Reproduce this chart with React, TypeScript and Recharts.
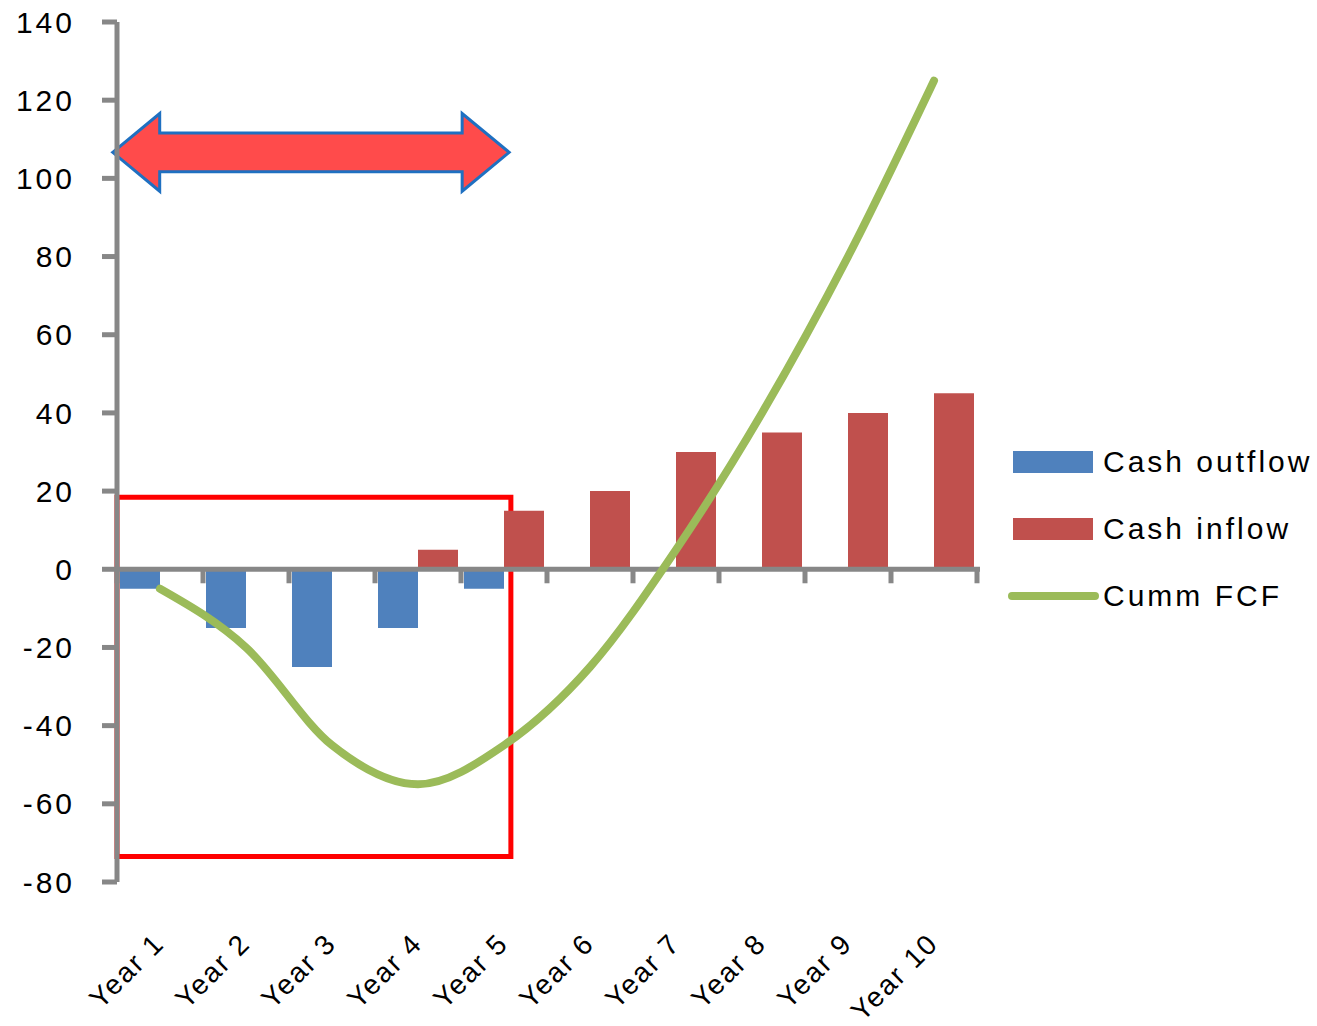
import React from 'react';
import {
  ComposedChart,
  Bar,
  Line,
  XAxis,
  YAxis,
  Legend,
  ReferenceLine,
  ReferenceArea,
} from 'recharts';

const years = ['Year 1', 'Year 2', 'Year 3', 'Year 4', 'Year 5', 'Year 6', 'Year 7', 'Year 8', 'Year 9', 'Year 10'];
const cashOutflow = [-5, -15, -25, -15, -5, null, null, null, null, null];
const cashInflow = [null, null, null, 5, 15, 20, 30, 35, 40, 45];
const cummFcf = [-5, -20, -45, -55, -45, -25, 5, 40, 80, 125];
const yTicks = [-80, -60, -40, -20, 0, 20, 40, 60, 80, 100, 120, 140];

// annotation extents, in data units (hidden numeric x axis runs 0..10 across the categories)
const payback = { x1: 0, x2: 4.58, y1: -73.5, y2: 18.4 };
const arrow = { x1: -0.05, x2: 4.56, y1: 96.7, y2: 116.6 };

const FONT = '"Liberation Sans", Arial, sans-serif';
const AXIS_GREY = '#878787';
const BLUE = '#4F81BD';
const RED = '#C0504D';
const GREEN = '#9BBB59';

const data = years.map((name, i) => ({
  name,
  pos: i + 0.5,
  outflow: cashOutflow[i],
  inflow: cashInflow[i],
  cumm: cummFcf[i],
}));

const YearTick = (props: any) => {
  const { x, y, payload } = props;
  const tx = x + 6;
  const ty = y + 63;
  return (
    <text
      x={tx}
      y={ty}
      transform={`rotate(-45, ${tx}, ${ty})`}
      textAnchor="end"
      fontSize={28}
      fontFamily={FONT}
      letterSpacing={2}
      fill="#000"
    >
      {payload.value}
    </text>
  );
};

// horizontal axis drawn at zero, with tick marks on category boundaries
const ZeroAxis = (props: any) => {
  const { x1, y1, x2 } = props;
  const n = years.length;
  const step = (x2 - x1) / n;
  const marks = [];
  for (let i = 0; i <= n; i++) {
    const xx = x1 + i * step;
    marks.push(<line key={i} x1={xx} y1={y1} x2={xx} y2={y1 + 14} stroke={AXIS_GREY} strokeWidth={5} />);
  }
  return (
    <g>
      <line x1={x1} y1={y1} x2={x2 + 3} y2={y1} stroke={AXIS_GREY} strokeWidth={5} />
      {marks}
    </g>
  );
};

const ArrowShape = (props: any) => {
  const { x, y, width, height } = props;
  const head = 47;
  const top = y + height * 0.25;
  const bot = y + height * 0.75;
  const mid = y + height / 2;
  const pts = [
    [x, mid],
    [x + head, y],
    [x + head, top],
    [x + width - head, top],
    [x + width - head, y],
    [x + width, mid],
    [x + width - head, y + height],
    [x + width - head, bot],
    [x + head, bot],
    [x + head, y + height],
  ]
    .map((p) => p.join(','))
    .join(' ');
  return <polygon points={pts} fill="#FF4B4B" stroke="#1F70C1" strokeWidth={3} strokeLinejoin="miter" />;
};

const legendItems = [
  { label: 'Cash outflow', color: BLUE, kind: 'bar' },
  { label: 'Cash inflow', color: RED, kind: 'bar' },
  { label: 'Cumm FCF', color: GREEN, kind: 'line' },
];

const LegendContent = () => (
  <div style={{ fontFamily: FONT, fontSize: 30, letterSpacing: 3, color: '#000' }}>
    {legendItems.map((it) => (
      <div key={it.label} style={{ display: 'flex', alignItems: 'center', height: 67 }}>
        <svg width={95} height={30}>
          {it.kind === 'bar' ? (
            <rect x={5} y={4} width={80} height={22} fill={it.color} />
          ) : (
            <line x1={4} y1={15} x2={87} y2={15} stroke={it.color} strokeWidth={8} strokeLinecap="round" />
          )}
        </svg>
        <span>{it.label}</span>
      </div>
    ))}
  </div>
);

export default function App() {
  return (
    <div style={{ position: 'absolute', left: 0, top: 0, background: '#fff' }}>
      <ComposedChart
        width={1317}
        height={1026}
        data={data}
        margin={{ top: 22, right: 340, bottom: 14, left: 0 }}
        barGap={0}
        barCategoryGap={3}
      >
        <XAxis
          dataKey="name"
          height={130}
          axisLine={false}
          tickLine={false}
          tickSize={0}
          tickMargin={0}
          interval={0}
          tick={<YearTick />}
        />
        <XAxis xAxisId="num" dataKey="pos" type="number" domain={[0, 10]} allowDataOverflow hide />
        <YAxis
          width={117}
          domain={[-80, 140]}
          ticks={yTicks}
          interval={0}
          axisLine={{ stroke: AXIS_GREY, strokeWidth: 5 }}
          tickLine={{ stroke: AXIS_GREY, strokeWidth: 5 }}
          tickSize={15}
          tickMargin={27}
          tick={{ fill: '#000', fontSize: 30, fontFamily: FONT, letterSpacing: 3 }}
        />
        <Legend
          layout="horizontal"
          verticalAlign="middle"
          align="center"
          content={<LegendContent />}
          wrapperStyle={{ left: 1008, top: 428, width: 309, height: 201 }}
        />
        <Bar dataKey="outflow" name="Cash outflow" fill={BLUE} isAnimationActive={false} />
        <Bar dataKey="inflow" name="Cash inflow" fill={RED} isAnimationActive={false} />
        <ReferenceLine y={0} shape={<ZeroAxis />} />
        <Line
          type="monotone"
          dataKey="cumm"
          name="Cumm FCF"
          stroke={GREEN}
          strokeWidth={8}
          strokeLinecap="round"
          dot={false}
          activeDot={false}
          isAnimationActive={false}
        />
        <ReferenceArea
          xAxisId="num"
          x1={payback.x1}
          x2={payback.x2}
          y1={payback.y1}
          y2={payback.y2}
          fill="none"
          fillOpacity={0}
          stroke="#FF0000"
          strokeWidth={5}
          ifOverflow="visible"
        />
        <ReferenceArea
          xAxisId="num"
          x1={arrow.x1}
          x2={arrow.x2}
          y1={arrow.y1}
          y2={arrow.y2}
          ifOverflow="visible"
          shape={<ArrowShape />}
        />
      </ComposedChart>
    </div>
  );
}
